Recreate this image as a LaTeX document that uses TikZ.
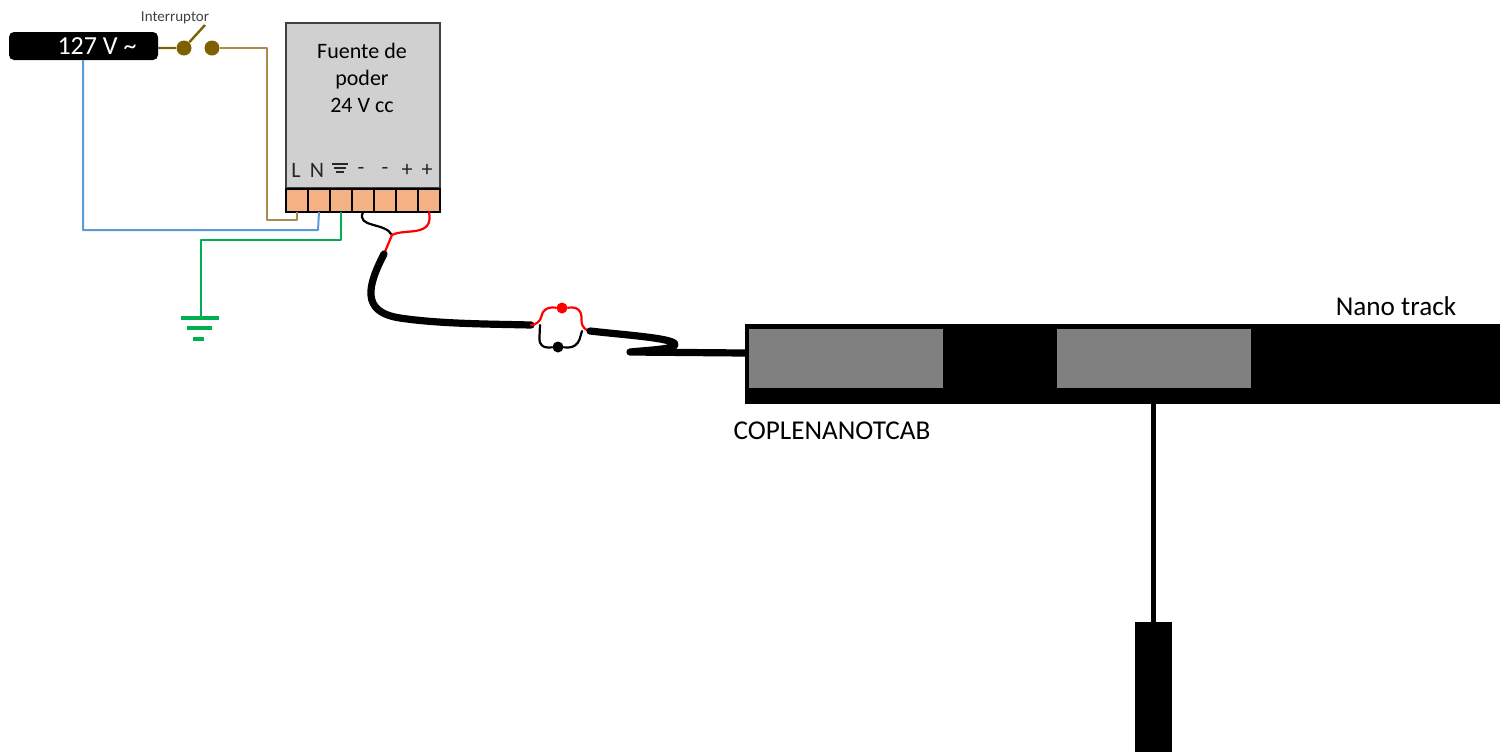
\documentclass[tikz,border=0pt]{standalone}
\usepackage{fontspec}
\setmainfont{Carlito}
\usetikzlibrary{positioning}
\definecolor{cablebrown}{HTML}{A98B4E}
\definecolor{switchbrown}{HTML}{7F6000}
\definecolor{cableblue}{HTML}{5B9BD5}
\definecolor{cablegreen}{HTML}{00B050}
\definecolor{cellorange}{HTML}{F4B183}
\definecolor{psugrey}{HTML}{D0D0D0}
\definecolor{padgrey}{HTML}{808080}
\tikzset{
  lbl/.style={inner sep=0pt,font=\fontsize{11}{13.5}\selectfont},
  biglbl/.style={inner sep=0pt,font=\fontsize{13.6}{16}\selectfont},
  pinlbl/.style={inner sep=0pt,font=\fontsize{11}{12}\selectfont,text=black!85},
  cell/.style={draw=black,line width=1.3pt,fill=cellorange,minimum width=11pt,minimum height=11.5pt,inner sep=0pt,outer sep=0pt},
  block/.style={fill=black,inner sep=0pt,outer sep=0pt},
  pad/.style={fill=padgrey,inner sep=0pt,outer sep=0pt,minimum width=97pt,minimum height=29.5pt},
  dot/.style={circle,inner sep=0pt,minimum size=#1},
  bar/.style={fill=cablegreen,inner sep=0pt,outer sep=0pt,minimum height=2pt},
  wire/.style={line width=1pt,line join=round},
  lead/.style={line width=1.1pt,line cap=round},
  cable/.style={line width=3.6pt,line cap=round}
}
\begin{document}
\begin{tikzpicture}[x=0.5pt,y=-0.5pt]
\useasboundingbox (0,0) rectangle (1504,751);

\node[block,rounded corners=2.5pt,minimum width=74.5pt,minimum height=14pt] (src) at (83.5,46) {};
\node[biglbl,font=\fontsize{13}{15}\selectfont,text=white] (srclbl) at (97,46) {127 V \textasciitilde};
\node[inner sep=0pt,font=\fontsize{7.5}{8}\selectfont,text=black!75] (swlbl) at (175,18) {Interruptor};
\node[dot=7.5pt,fill=switchbrown] (sw1) at (184,48) {}; \node[dot=7.5pt,fill=switchbrown] (sw2) at (212,48) {};
\coordinate (swtip) at (205,25);

\node[draw=black!75,line width=0.9pt,fill=psugrey,minimum width=77pt,minimum height=82.5pt,inner sep=0pt,outer sep=0pt] (psu) at (363,105.5) {};
\node[lbl,align=center] (psulbl) at (362,78) {Fuente de\\poder\\24 V cc};
\foreach \n/\x in {1/297,2/319,3/341,4/363,5/385,6/407,7/429}
  \node[cell] (t\n) at (\x,200.5) {};

\node[pinlbl] (pl) at (296,170) {L}; \node[pinlbl] (pn) at (317,170) {N}; \node[pinlbl] (pm1) at (361,171) {-}; \node[pinlbl] (pm2) at (385,171) {-}; \node[pinlbl] (pp1) at (407,170) {+}; \node[pinlbl] (pp2) at (427,170) {+};
\draw[black!85,line width=0.7pt] (332,164) -- (348,164) (334,168) -- (346,168) (336,172) -- (344,172);

\coordinate (bt) at (83,60); \coordinate (cl) at (267,220); \coordinate (cn) at (318,230); \coordinate (cg) at (201,240);
\draw[wire,cablebrown] (sw2) -| (cl) -| (t1.south);
\draw[wire,cableblue] (bt) |- (cn) -- (t2.south);
\node[bar,minimum width=19pt] (g1) at (200,318) {}; \node[bar,minimum width=12.5pt] (g2) at (199.5,328) {}; \node[bar,minimum width=5.5pt] (g3) at (198.5,339) {};
\draw[wire,cablegreen] (t3.south) |- (cg) -- (cg |- g1.north);
\draw[line width=1.2pt,switchbrown] (src.east |- sw1) -- (sw1) -- (swtip);

\coordinate (split) at (392,235); \coordinate (cstart) at (384,254); \coordinate (cend) at (531,325);
\coordinate (fusein) at (540,325); \coordinate (fuseout) at (582,331);
\draw[lead,black] (t4.south) .. controls (356,228) and (385,222) .. (split);
\draw[lead,red] (t7.south) .. controls (434,238) and (405,228) .. (split) -- (cstart);
\draw[cable] (cstart) .. controls (368,285) and (360,312) .. (400,318) .. controls (440,324) and (490,324) .. (cend);

\node[dot=5.5pt,fill=red] (fr) at (562,308) {}; \node[dot=5.5pt,fill=black] (fb) at (558,347) {};
\draw[lead,black,rounded corners=4.5pt] (fusein) -- (539,348) -- (fb) -- (577,348) -- (fuseout);
\draw[lead,red,rounded corners=4.5pt] (cend) -- (fusein) -- (543,307) -- (fr) -- (581,307) -- (fuseout) -- (590,331);

\node[block,minimum width=377.5pt,minimum height=40pt] (track) at (1122,364) {};
\node[pad] (pad1) at (846,358.5) {}; \node[pad] (pad2) at (1153.5,358.5) {};
\node[biglbl] (tracklbl) at (1396,306) {Nano track};
\node[biglbl] (cablbl) at (832,431) {COPLENANOTCAB};
\draw[cable,line join=round] (590,331) .. controls (625,335) and (672,338) .. (675,344) .. controls (677,349) and (650,350) .. (630,352) -- (track.west |- 0,353);

\node[block,minimum width=18.5pt,minimum height=65pt] (stub) at (1153.5,686.5) {};
\draw[line width=2.5pt] (track.south -| stub.north) -- (stub.north);
\end{tikzpicture}
\end{document}
